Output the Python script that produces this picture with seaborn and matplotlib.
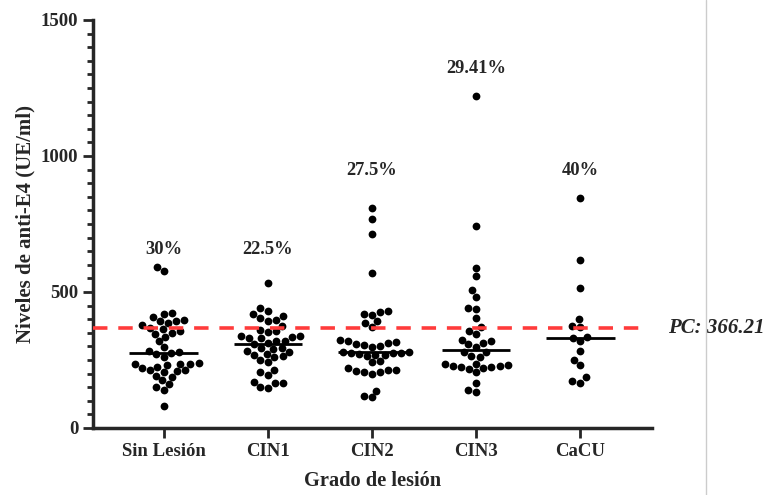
import pandas as pd
import numpy as np
import seaborn as sns
import matplotlib.pyplot as plt
from matplotlib.ticker import MultipleLocator

groups = ['Sin Lesión', 'CIN1', 'CIN2', 'CIN3', 'CaCU']

sin_lesion = [576, 591, 422, 420, 408, 395, 394, 396, 385, 377, 369, 363, 355, 351,
              345, 336, 320, 298, 283, 281, 275, 272, 262, 238, 235, 236, 236, 233,
              224, 222, 207, 212, 208, 214, 192, 187, 177, 160, 149, 138, 80]
cin1 = [532, 440, 430, 418, 413, 397, 403, 395, 376, 361, 354, 355, 333, 330, 329,
        337, 340, 320, 320, 313, 307, 294, 284, 291, 293, 281, 261, 273, 269, 263,
        244, 249, 207, 195, 212, 151, 164, 170, 148, 164]
cin2 = [810, 770, 712, 570, 429, 419, 416, 427, 394, 385, 372, 312, 318, 315, 323,
        297, 305, 302, 307, 278, 269, 269, 277, 275, 272, 278, 277, 263, 246, 241,
        219, 214, 206, 211, 206, 212, 198, 137, 113, 118]
cin3 = [1220, 741, 589, 560, 507, 483, 440, 436, 403, 358, 371, 347, 321, 324, 308,
        313, 298, 278, 278, 263, 262, 223, 217, 224, 232, 234, 219, 227, 227, 236,
        206, 164, 133, 140]
cacu = [847, 616, 514, 400, 372, 375, 333, 320, 330, 284, 250, 233, 186, 165, 172]

pct_labels = ['30%', '22.5%', '27.5%', '29.41%', '40%']
pct_y = [658, 658, 946, 1323, 946]
cutoff = 366.21

values = [sin_lesion, cin1, cin2, cin3, cacu]
df = pd.DataFrame({
    'grupo': [g for g, v in zip(groups, values) for _ in v],
    'nivel': [x for v in values for x in v],
})

sns.set_style('ticks')
plt.rcParams['font.family'] = ['Liberation Serif', 'DejaVu Serif']
plt.rcParams['font.weight'] = 'bold'

fig = plt.figure(figsize=(7.7, 4.95), dpi=100)
ax = fig.add_axes([0.1208, 0.1354, 0.726, 0.8242])

sns.swarmplot(data=df, x='grupo', y='nivel', order=groups, color='black',
              size=5.6, ax=ax, zorder=3)

# median lines
for i, v in enumerate(values):
    ax.hlines(np.median(v), i - 0.33, i + 0.33, color='black', lw=2, zorder=4)

# cutoff line
ax.axhline(cutoff, xmin=0, xmax=0.985, color='#ff3b3b', lw=2.6,
           dashes=(4, 3), zorder=5)
ax.text(4.84, cutoff, f'PC: {cutoff}', fontsize=15, fontstyle='italic',
        fontweight='bold', va='center', ha='left', clip_on=False)

for i, (lab, y) in enumerate(zip(pct_labels, pct_y)):
    ax.text(i, y, lab, ha='center', va='center', fontsize=13.3, fontweight='bold')

ax.set_xlim(-0.68, 4.69)
ax.set_ylim(0, 1500)
ax.yaxis.set_major_locator(MultipleLocator(500))
ax.yaxis.set_minor_locator(MultipleLocator(50))
ax.set_xlabel('Grado de lesión', fontsize=14.7, fontweight='bold', labelpad=8)
ax.set_ylabel('Niveles de anti-E4 (UE/ml)', fontsize=15, fontweight='bold', labelpad=4)

for s in ['top', 'right']:
    ax.spines[s].set_visible(False)
for s in ['left', 'bottom']:
    ax.spines[s].set_linewidth(2.5)
ax.tick_params(axis='both', which='major', width=2, length=7.5, labelsize=13.5, pad=3)
ax.tick_params(axis='y', which='minor', width=2, length=4.3)
for lab in ax.get_xticklabels() + ax.get_yticklabels():
    lab.set_fontweight('bold')

# page border line at right
fig.add_artist(plt.Line2D([0.917, 0.917], [0, 1], color='#cccccc', lw=1))

fig.savefig('out.png', dpi=100)
